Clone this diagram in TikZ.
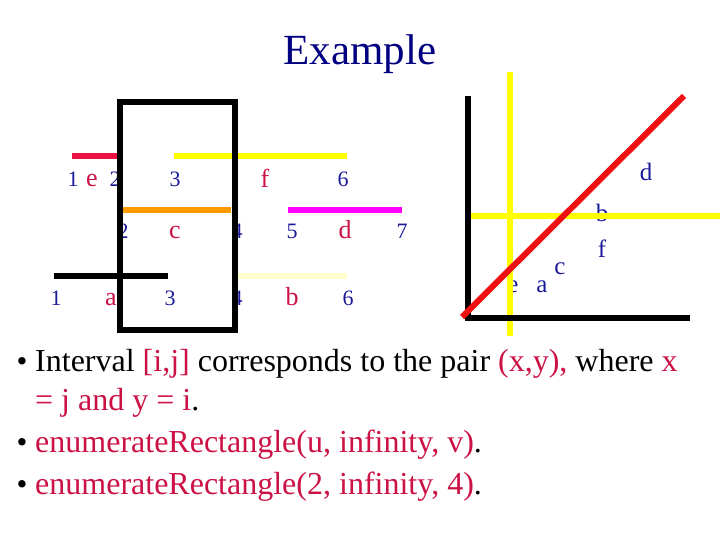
\documentclass[tikz,border=0pt]{standalone}
\usepackage{fontspec}
\setmainfont{Liberation Serif}
\usetikzlibrary{positioning}
\definecolor{titleBlue}{HTML}{000080}
\definecolor{numBlue}{HTML}{1A1A99}
\definecolor{lblRed}{HTML}{CC1144}
\definecolor{barRed}{HTML}{EE1144}
\definecolor{diagRed}{HTML}{EE1111}
\definecolor{barYellow}{HTML}{FFFF00}
\definecolor{barOrange}{HTML}{FF9900}
\definecolor{barMagenta}{HTML}{FF00FF}
\definecolor{barPale}{HTML}{FFFFCC}

\begin{document}
\begin{tikzpicture}[
    x=1pt, y=-1pt,
    num/.style={
        text=numBlue, anchor=base, inner sep=0pt,
        font=\fontsize{22}{22}\selectfont
    },
    lbl/.style={
        text=lblRed, anchor=base, inner sep=0pt,
        font=\fontsize{26}{26}\selectfont
    },
    pt/.style={
        text=numBlue, anchor=base, inner sep=0pt,
        font=\fontsize{25}{25}\selectfont
    },
    bar/.style={line width=6pt},
    textline/.style={
        anchor=base west, inner sep=0pt,
        font=\fontsize{32}{32}\selectfont
    },
    dot/.style={
        anchor=base, inner sep=0pt,
        font=\fontsize{31}{31}\selectfont
    }
]
    \useasboundingbox (0,0) rectangle (720,540);

    \node[anchor=base, inner sep=0pt, text=titleBlue,
          font=\fontsize{43}{43}\selectfont] (title) at (360,65) {Example};

    % interval labels
    \node[num] (e1) at (73,187) {1};
    \node[lbl] (e) at (92,187) {e};
    \node[num] (e2) at (115,187) {2};
    \node[num] (f3) at (175,187) {3};
    \node[lbl] (f) at (265,188) {f};
    \node[num] (f6) at (343,187) {6};

    \node[num] (c2) at (123,238) {2};
    \node[lbl] (c) at (175,238) {c};
    \node[num] (c4) at (237,238) {4};
    \node[num] (d5) at (292,238) {5};
    \node[lbl] (d) at (345,238) {d};
    \node[num] (d7) at (402,238) {7};

    \node[num] (a1) at (56,305) {1};
    \node[lbl] (a) at (111,305) {a};
    \node[num] (a3) at (170,305) {3};
    \node[num] (b4) at (237,305) {4};
    \node[lbl] (b) at (292,305) {b};
    \node[num] (b6) at (348,305) {6};

    % interval bars
    \draw[bar, barRed] (72,156) -- (117,156);
    \draw[bar, barYellow] (174,156) -- (347,156);
    \draw[bar, barOrange] (123,210) -- (231,210);
    \draw[bar, barMagenta] (288,210) -- (402,210);
    \draw[bar, black] (54,276) -- (168,276);
    \draw[bar, barPale] (238,276) -- (347,276);
    \draw[bar, black] (120,102) rectangle (235,330);

    % points in the plane
    \node[pt] (pd) at (646,181) {d};
    \node[pt] (pb) at (602,222) {b};
    \node[pt] (pf) at (602,258) {f};
    \node[pt] (pc) at (560,274) {c};
    \node[pt] (pa) at (542,292) {a};
    \node[pt] (pe) at (513,292) {e};

    \draw[bar, barYellow] (510,72) -- (510,336);
    \draw[bar, barYellow] (468,216) -- (720,216);
    \draw[bar, black] (468,96) -- (468,318) -- (690,318);
    \draw[bar, diagRed] (462,317) -- (684,96);

    % bullets
    \node[dot] (b1) at (22,371) {•};
    \node[textline] (t1) at (35,371) {Interval \textcolor{lblRed}{[i,j]} corresponds to the pair \textcolor{lblRed}{(x,y),} where \textcolor{lblRed}{x}};
    \node[textline] (t2) at (35,410) {\textcolor{lblRed}{= j and y = i}.};
    \node[dot] (b3) at (22,452) {•};
    \node[textline] (t3) at (35,452) {\textcolor{lblRed}{enumerateRectangle(u, infinity, v)}.};
    \node[dot] (b4) at (22,494) {•};
    \node[textline] (t4) at (35,494) {\textcolor{lblRed}{enumerateRectangle(2, infinity, 4)}.};
\end{tikzpicture}
\end{document}
